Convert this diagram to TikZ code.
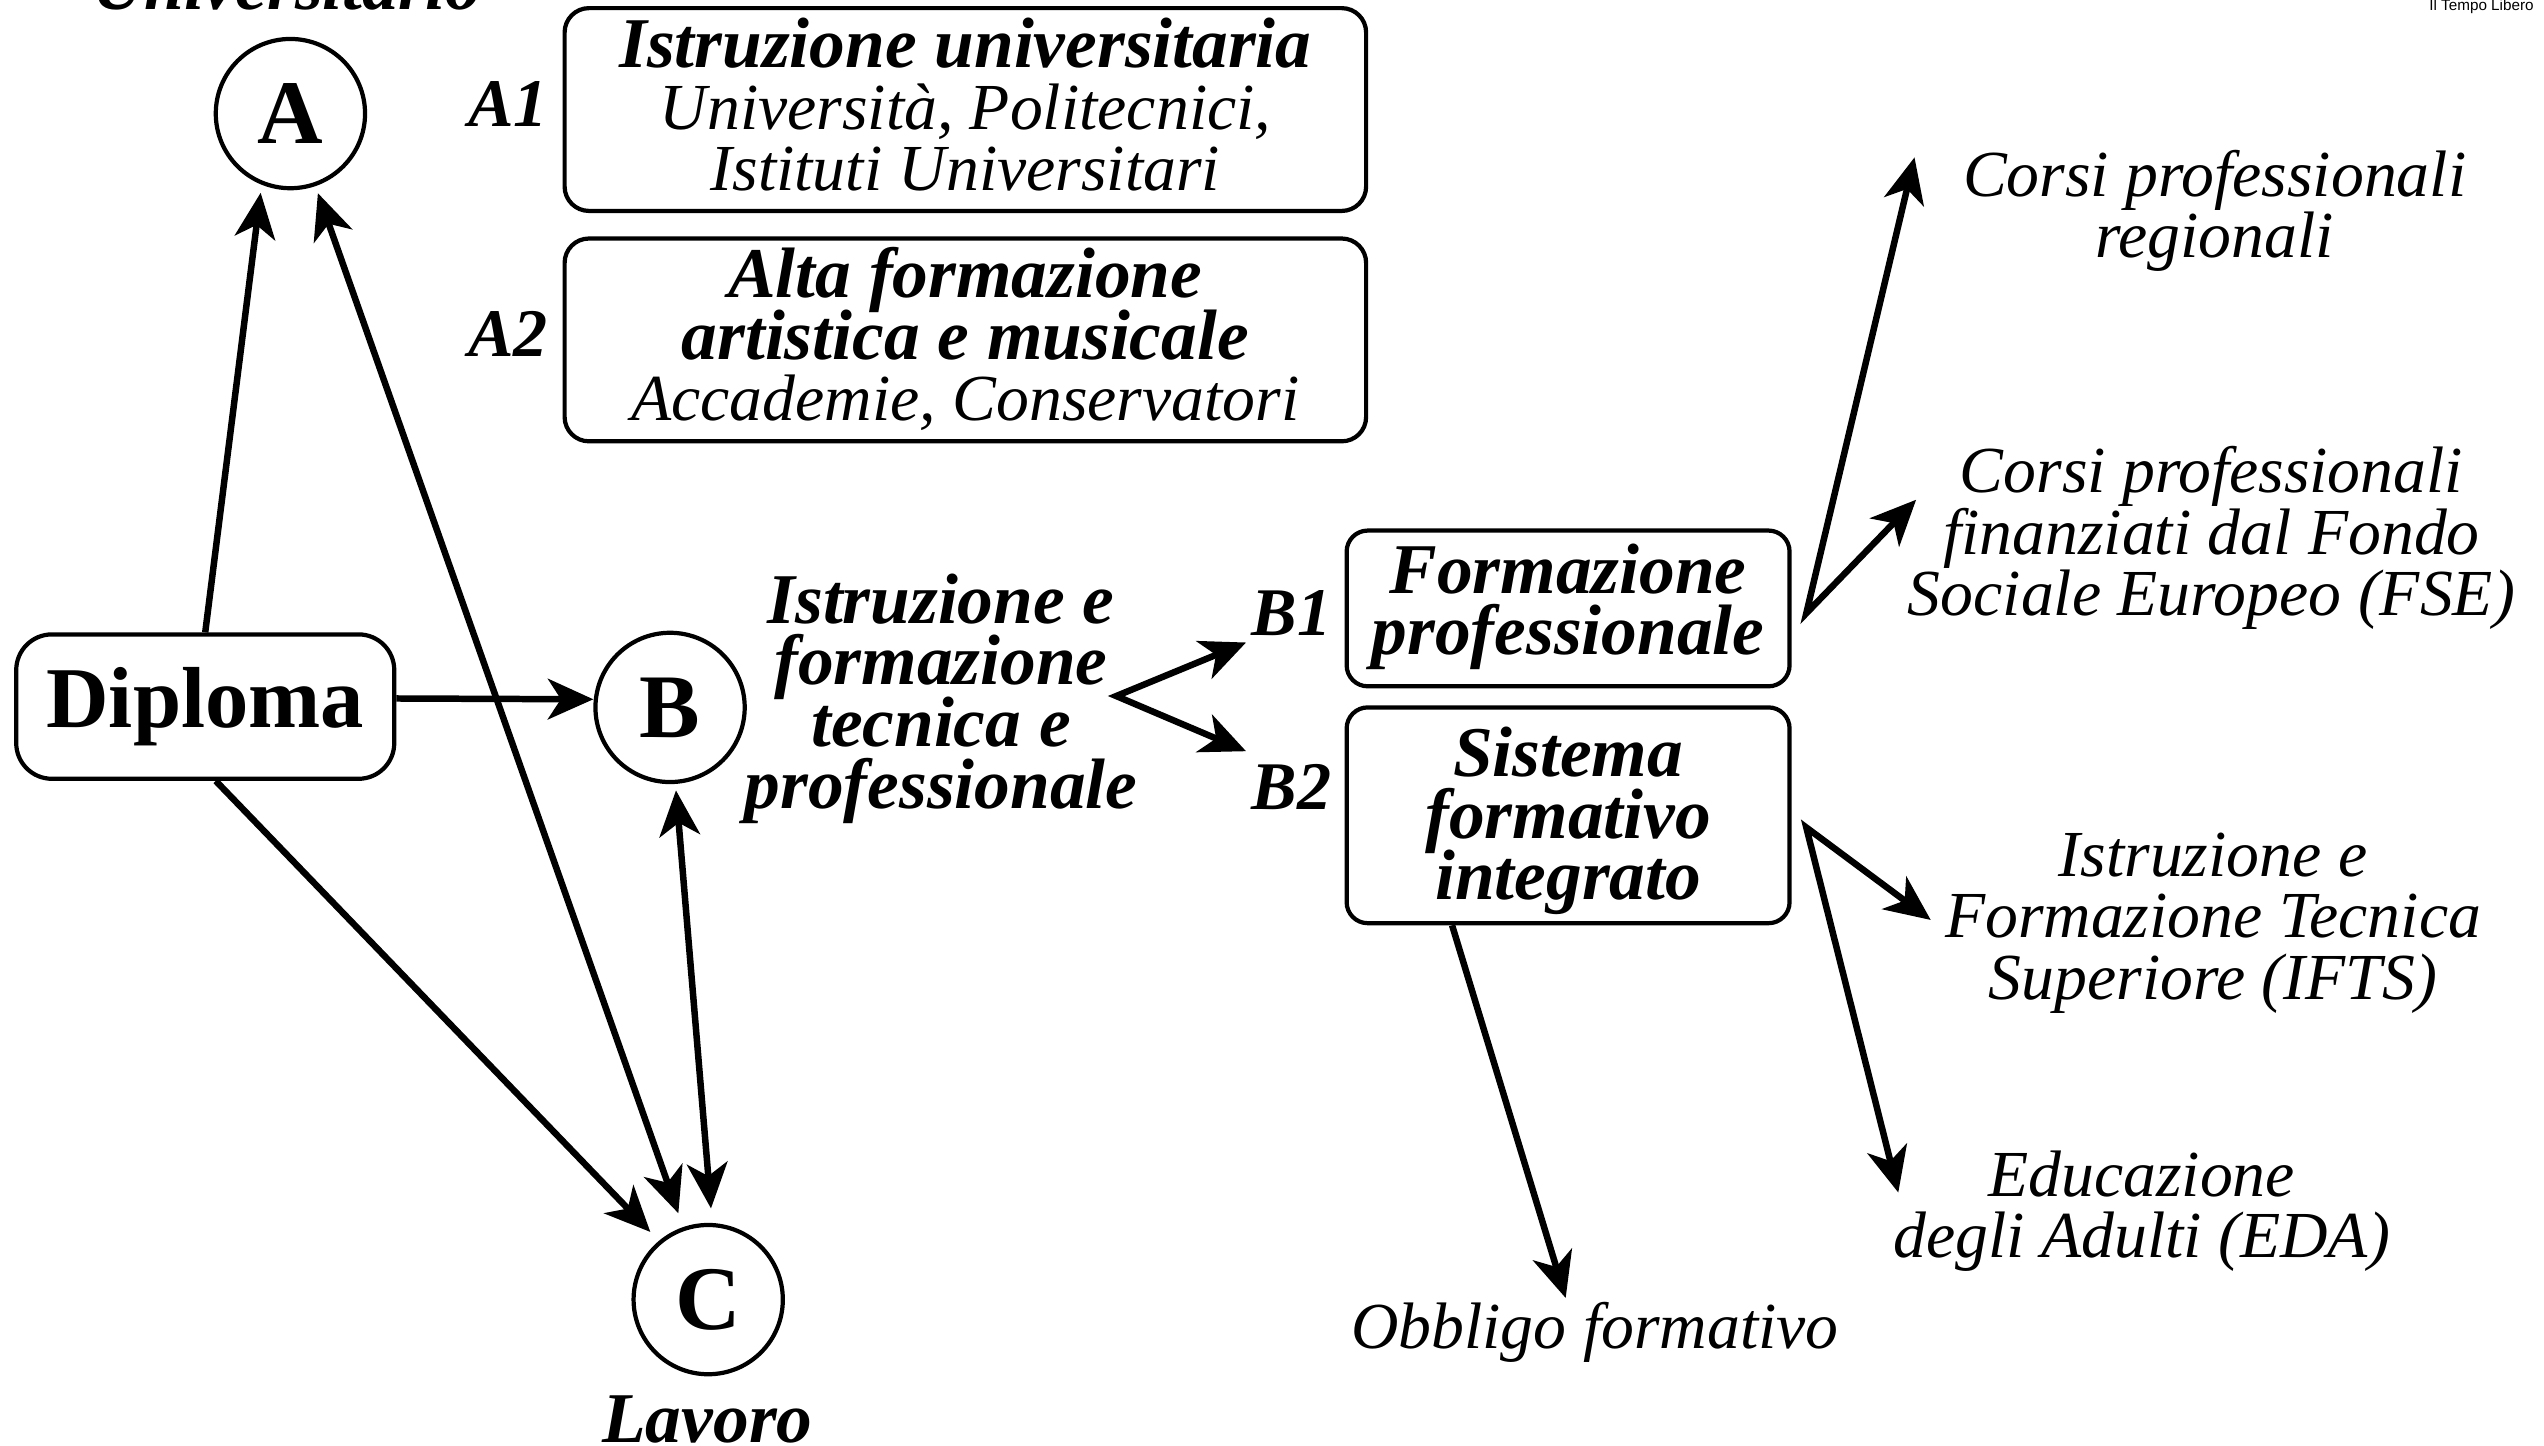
\documentclass[tikz,border=0pt]{standalone}
\usepackage{fontspec}
\setmainfont{Liberation Serif}
\newfontfamily\sansf{Liberation Sans}
\usetikzlibrary{arrows.meta}
\lineskiplimit=-100pt
\lineskip=0pt
\newcommand\fBI{\fontsize{22pt}{19pt}\selectfont\bfseries\itshape}
\newcommand\fIT{\fontsize{20.25pt}{19pt}\selectfont\itshape}
\newcommand\fDIP{\fontsize{26.7pt}{30pt}\selectfont\bfseries}
\newcommand\fCIR{\fontsize{28pt}{30pt}\selectfont\bfseries}
\newcommand\fLAB{\fontsize{21pt}{19pt}\selectfont\bfseries\itshape}
\newcommand\fTINY{\sansf\fontsize{4.7pt}{5pt}\selectfont}
\begin{document}
\begin{tikzpicture}[x=0.5pt,y=-0.5pt,
  circ/.style={draw,circle,line width=1.3pt,minimum size=46pt,inner sep=0pt,font=\fCIR},
  bigbox/.style={draw,rounded corners=7.5pt,line width=1.3pt,minimum width=247pt,minimum height=62.5pt,inner sep=0pt},
  smallbox/.style={draw,rounded corners=6.5pt,line width=1.3pt,minimum width=136.5pt,inner sep=0pt},
  dipbox/.style={draw,rounded corners=11pt,line width=1.3pt,minimum width=116.5pt,minimum height=44.5pt,inner sep=0pt,font=\fDIP},
  lab/.style={font=\fLAB,inner sep=0pt},
  rtext/.style={font=\fIT,align=center,inner sep=0pt},
  btext/.style={font=\fBI,align=center,inner sep=0pt},
  tipstyle/.tip={Stealth[length=14pt,width=12.5pt,inset=4pt]},
  arr/.style={line width=2pt,-tipstyle},
  darr/.style={line width=2pt,tipstyle-tipstyle},
]
\useasboundingbox (0,0) rectangle (1568,891);

% top texts (cut by the page edge)
\node[btext,anchor=base] (univ) at (177,6) {Universitario};
\node[font=\fTINY,anchor=base east,inner sep=0pt] (tl) at (1562,6.5) {Il Tempo Libero};

% A branch
\node[circ] (A) at (179,70) {A};
\node[lab] (A1l) at (313,64) {A1};
\node[bigbox] (A1) at (595,67.5) {};
\node[rtext] (A1t) at (595,64.5) {{\fBI Istruzione universitaria}\\Università, Politecnici,\\Istituti Universitari};
\node[lab] (A2l) at (313,206) {A2};
\node[bigbox] (A2) at (595,209.5) {};
\node[rtext] (A2t) at (595,209) {{\fBI Alta formazione}\\{\fBI artistica e musicale}\\Accademie, Conservatori};

% Diploma, B, C
\node[dipbox] (D) at (126.5,435.5) {Diploma};
\node[circ] (B) at (413,436) {B};
\node[circ] (C) at (436.5,801) {C};
\node[btext,anchor=base] (lav) at (436,889) {Lavoro};

% B branch
\node[btext] (ift) at (580,430.5) {Istruzione e\\formazione\\tecnica e\\professionale};
\node[lab] (B1l) at (796,378) {B1};
\node[lab] (B2l) at (796,485) {B2};
\node[smallbox,minimum height=48pt] (B1) at (966.5,375) {};
\node[btext] (B1t) at (966.5,374) {Formazione\\professionale};
\node[smallbox,minimum height=66.5pt] (B2) at (966.5,502.5) {};
\node[btext] (B2t) at (966.5,506) {Sistema\\formativo\\integrato};

% right texts
\node[rtext] (reg) at (1365,130) {Corsi professionali\\regionali};
\node[rtext] (fse) at (1363,331.5) {Corsi professionali\\finanziati dal Fondo\\Sociale Europeo (FSE)};
\node[rtext] (ifts) at (1364,569) {Istruzione e\\Formazione Tecnica\\Superiore (IFTS)};
\node[rtext] (eda) at (1320,746.5) {Educazione\\degli Adulti (EDA)};
\node[rtext] (obb) at (983,821) {Obbligo formativo};

% helper coordinates
\coordinate (split) at (688,429);
\coordinate (tB1) at (768,396);
\coordinate (tB2) at (768,463);
\coordinate (sB1) at ([xshift=4.5pt,yshift=-1.5pt]B1.east);
\coordinate (sB2) at ([xshift=4.5pt,yshift=-3.75pt]B2.east);
\coordinate (tReg) at (1180,97);
\coordinate (tFse) at (1181,308);
\coordinate (tIfts) at (1190,567);
\coordinate (tEda) at (1170,735);
\coordinate (tObb) at (965,800);

% connectors
\draw[arr,shorten >=2.5pt] (D.north) -- (A.248.4);
\draw[darr,shorten <=2.3pt,shorten >=4.5pt] (A.289.5) -- (C.109.6);
\draw[arr,shorten >=3.8pt] ([xshift=3.25pt]D.south) -- (C.130);
\draw[arr] ([yshift=2.5pt]D.east) -- ([yshift=2.5pt]B.west);
\draw[darr,shorten <=2pt,shorten >=4.5pt] (B.274.5) -- (C.87.4);
\draw[darr] (tB1) -- (split) -- (tB2);
\draw[darr] (tReg) -- (sB1) -- (tFse);
\draw[darr] (tIfts) -- (sB2) -- (tEda);
\draw[arr] ([xshift=-35.75pt]B2.south) -- (tObb);
\end{tikzpicture}
\end{document}
